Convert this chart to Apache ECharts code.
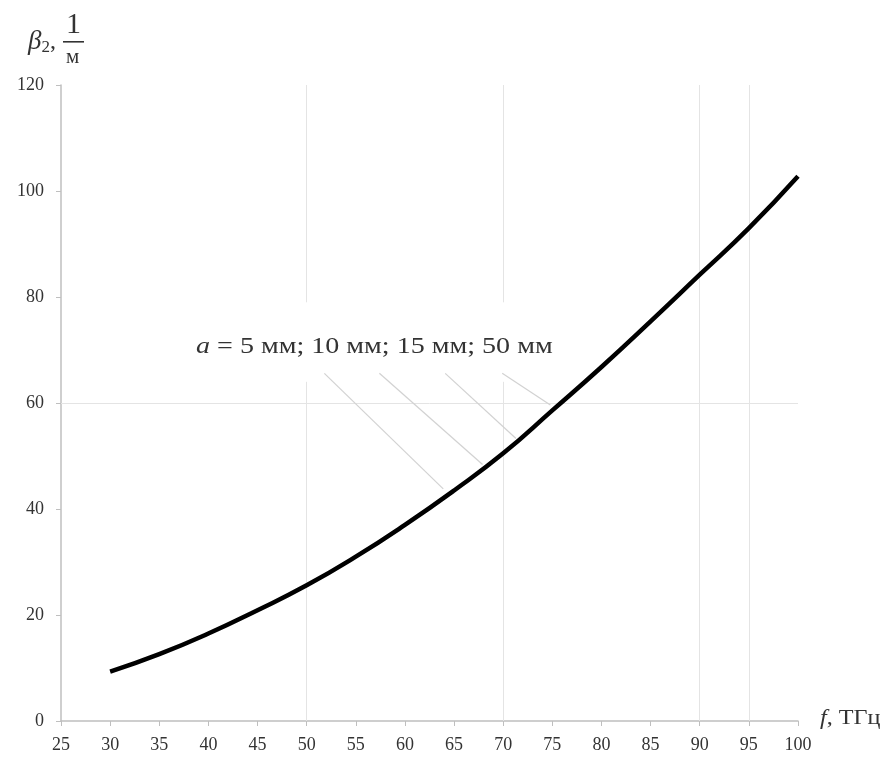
<!DOCTYPE html>
<html>
<head>
<meta charset="utf-8">
<script src="https://cdn.jsdelivr.net/npm/echarts@6/dist/echarts.min.js"></script>
<style>html,body{margin:0;padding:0;background:#fff}#c{width:895px;height:762px}</style>
</head>
<body>
<div id="c"></div>
<script>
// Data
var freq = [30, 35, 40, 45, 50, 55, 60, 65, 70, 75, 80, 85, 90, 95, 100];
var beta2 = [9.3, 12.6, 16.5, 20.9, 25.6, 31.0, 37.0, 43.5, 50.5, 58.6, 66.8, 75.4, 84.2, 93.0, 102.8];
var xTicks = [25, 30, 35, 40, 45, 50, 55, 60, 65, 70, 75, 80, 85, 90, 95, 100];
var yTicks = [0, 20, 40, 60, 80, 100, 120];
// visible grid segments: [x, yFrom, yTo]
var vGrid = [[50, 0, 64], [50, 79, 120], [70, 0, 64], [70, 79, 120], [90, 0, 120], [95, 0, 120]];
var hGrid = [60];
// annotation pointer lines: start under text, end on curve
var pointerStart = [[51.8, 65.6], [57.4, 65.6], [64.1, 65.6], [69.9, 65.6]];
var pointerEnd = [[63.9, 43.8], [67.9, 48.4], [71.3, 53.3], [74.8, 59.6]];
var annotText = '5 мм; 10 мм; 15 мм; 50 мм';
var xName = ', ТГц';

var serif = '"Liberation Serif", "DejaVu Serif", serif';
var chart = echarts.init(document.getElementById('c'));

var gridLines = [];
vGrid.forEach(function (g) { gridLines.push([{ coord: [g[0], g[1]] }, { coord: [g[0], g[2]] }]); });
hGrid.forEach(function (h) { gridLines.push([{ coord: [xTicks[0], h] }, { coord: [xTicks[xTicks.length - 1], h] }]); });
var pointers = pointerStart.map(function (s, i) { return [{ coord: s }, { coord: pointerEnd[i] }]; });

chart.setOption({
  animation: false,
  backgroundColor: '#fff',
  grid: { left: 61, right: 97, top: 85, bottom: 41 },
  xAxis: {
    type: 'value', min: xTicks[0], max: xTicks[xTicks.length - 1], interval: 5,
    axisLine: { lineStyle: { color: '#bfbfbf', width: 1.5 } },
    axisTick: { show: true, length: 5, lineStyle: { color: '#bfbfbf' } },
    axisLabel: { margin: 15, fontFamily: serif, fontSize: 18, color: '#333', showMinLabel: true, showMaxLabel: true },
    splitLine: { show: false }
  },
  yAxis: {
    type: 'value', min: yTicks[0], max: yTicks[yTicks.length - 1], interval: 20,
    axisLine: { show: true, lineStyle: { color: '#bfbfbf', width: 1.5 } },
    axisTick: { show: true, length: 5, lineStyle: { color: '#bfbfbf' } },
    axisLabel: { margin: 17, fontFamily: serif, fontSize: 18, color: '#333' },
    splitLine: { show: false }
  },
  series: [
    { type: 'line', data: [], silent: true,
      markLine: { silent: true, symbol: 'none', label: { show: false },
        lineStyle: { color: '#e4e4e4', width: 1, type: 'solid' }, data: gridLines } },
    { type: 'line', data: [], silent: true,
      markLine: { silent: true, symbol: 'none', label: { show: false },
        lineStyle: { color: '#d2d2d2', width: 1.2, type: 'solid' }, data: pointers } },
    { type: 'line', data: freq.map(function (f, i) { return [f, beta2[i]]; }),
      smooth: true, showSymbol: false, lineStyle: { color: '#000', width: 4.5 }, z: 5 }
  ],
  graphic: [
    { type: 'text', left: 196, top: 335, scaleX: 1.22, style: {
      text: '{i|a} = ' + annotText,
      rich: { i: { fontFamily: serif, fontStyle: 'italic', fontSize: 23, fill: '#333' } },
      fontFamily: serif, fontSize: 23, fill: '#333' } },
    { type: 'text', left: 820, top: 708, scaleX: 1.15, style: {
      text: '{i|f}' + xName,
      rich: { i: { fontFamily: serif, fontStyle: 'italic', fontSize: 21, fill: '#333' } },
      fontFamily: serif, fontSize: 21, fill: '#333' } },
    { type: 'text', left: 28, top: 28, style: {
      text: '{b|β}{s|2}{c|,}',
      rich: {
        b: { fontFamily: serif, fontStyle: 'italic', fontSize: 27, fill: '#333' },
        s: { fontFamily: serif, fontSize: 17, fill: '#333', verticalAlign: 'bottom', padding: [12, 0, 0, 0] },
        c: { fontFamily: serif, fontSize: 24, fill: '#333' } } } },
    { type: 'text', left: 66, top: 10, style: { text: '1', fontFamily: serif, fontSize: 30, fill: '#333' } },
    { type: 'rect', left: 63, top: 41, shape: { width: 21, height: 1.6 }, style: { fill: '#333' } },
    { type: 'text', left: 66, top: 47, style: { text: 'м', fontFamily: serif, fontSize: 21, fill: '#333' } }
  ]
});
</script>
</body>
</html>
